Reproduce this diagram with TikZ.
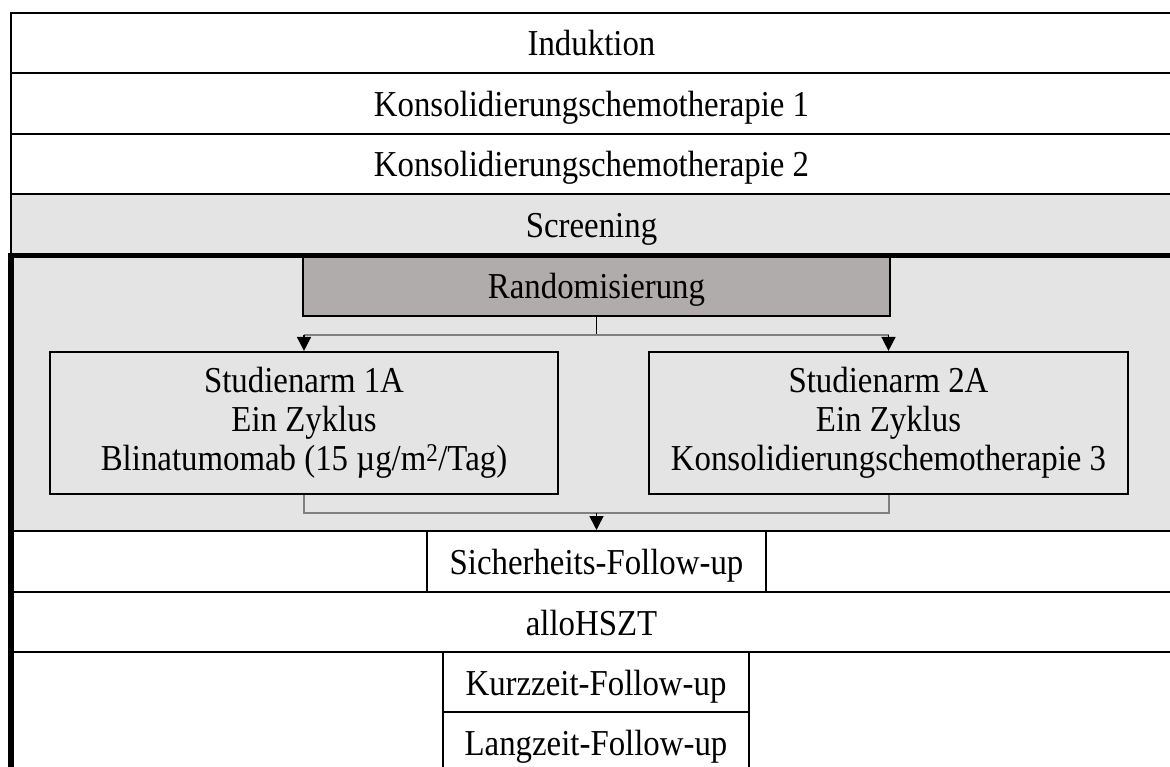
\documentclass[tikz,border=0pt]{standalone}
\usepackage{fontspec}
\setmainfont{Liberation Serif}[FakeStretch=0.9]
\usetikzlibrary{arrows.meta}
\definecolor{panel}{HTML}{E4E4E4}
\definecolor{randfill}{HTML}{B0ACAB}
\definecolor{connc}{HTML}{808080}
\tikzset{
  every node/.style={font=\fontsize{36.5}{39}\selectfont, inner sep=0pt, text height=27pt, text depth=1pt},
  rowbox/.style={draw=black, line width=2pt, rectangle, minimum width=1161pt, minimum height=#1},
  rowbox/.default=60.5pt,
  cellbox/.style={draw=black, line width=2pt, rectangle, fill=white},
  armbox/.style={draw=black, line width=2.2pt, rectangle, align=center, text height=, text depth=},
  graylink/.style={draw=connc, line width=2pt},
  darklink/.style={draw=black, line width=1.6pt},
  tip/.style={-{Triangle[width=14pt,length=14pt]}}
}
\begin{document}
\begin{tikzpicture}[x=1pt,y=-1pt]
\useasboundingbox (0,0) rectangle (1170,767);
\clip (0,0) rectangle (1170,767);
% upper rows
\node[rowbox] (ind) at (591.5,43) {Induktion};
\node[rowbox] (kons1) at (591.5,103.5) {Konsolidierungschemotherapie 1};
\node[rowbox] (kons2) at (591.5,164) {Konsolidierungschemotherapie 2};
\node[rowbox, fill=panel] (scr) at (591.5,224.5) {Screening};
% randomisation panel
\node[rectangle, fill=panel, minimum width=1161pt, minimum height=276pt] (panelarea) at (591.5,393) {};
\node[cellbox, fill=randfill, minimum width=587pt, minimum height=61pt] (rand) at (596.5,286) {Randomisierung};
\node[armbox, fill=panel, minimum width=508pt, minimum height=142pt] (arm1) at (304,423)
  {Studienarm 1A\\Ein Zyklus\\Blinatumomab (15 µg/m\textsuperscript{2}/Tag)};
\node[armbox, fill=panel, minimum width=479pt, minimum height=142pt] (arm2) at (888.5,423)
  {Studienarm 2A\\Ein Zyklus\\Konsolidierungschemotherapie 3};
% lower rows
\node[rowbox] (srow) at (591.5,561.5) {};
\node[cellbox, minimum width=339pt, minimum height=61pt] (sich) at (596.5,561.5) {Sicherheits-Follow-up};
\node[rowbox] (allo) at (591.5,622) {alloHSZT};
\node[rowbox, minimum height=120pt] (frow) at (591.5,712) {};
\node[cellbox, minimum width=306pt, minimum height=60pt] (kurz) at (596,682) {Kurzzeit-Follow-up};
\node[cellbox, minimum width=306pt, minimum height=60pt] (lang) at (596,742) {Langzeit-Follow-up};
% connectors
\coordinate (split) at (596.5,335);
\coordinate (merge) at (596.5,513);
\draw[darklink] (rand.south) -- (split);
\draw[graylink] (arm1.north |- split) -- (arm2.north |- split);
\draw[darklink, tip] (arm1.north |- split) -- (arm1.north);
\draw[darklink, tip] (arm2.north |- split) -- (arm2.north);
\draw[graylink] (arm1.south) |- (merge) -| (arm2.south);
\draw[darklink, tip] (merge) -- (sich.north);
% thick frame of the study part
\draw[line width=5.5pt] (11,255.5) -- (1200,255.5);
\draw[line width=5.5pt] (11,253) -- (11,800);
\end{tikzpicture}
\end{document}
